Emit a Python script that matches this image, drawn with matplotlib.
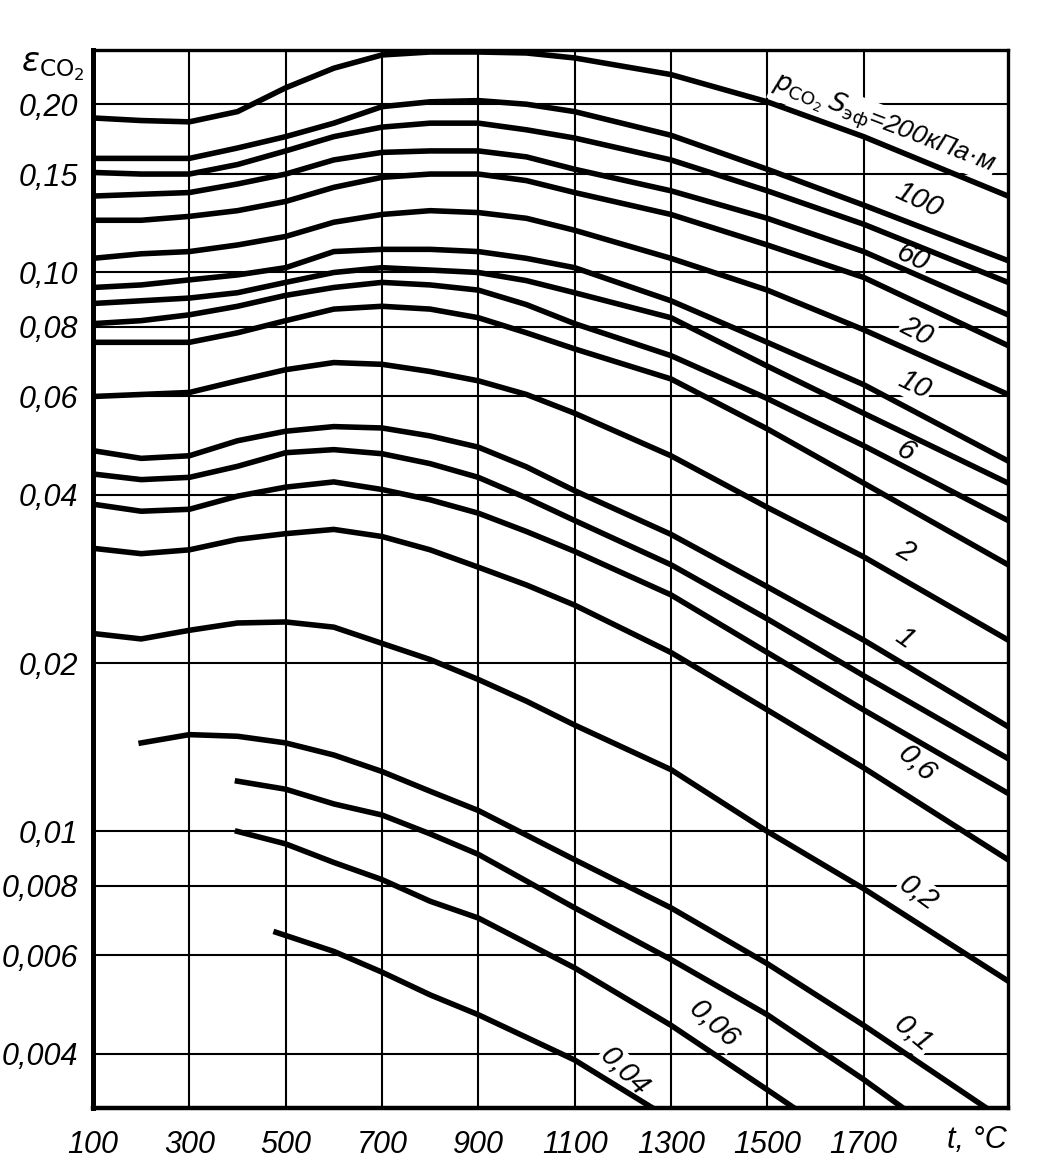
import matplotlib
matplotlib.use("Agg")
import matplotlib.pyplot as plt
from matplotlib.ticker import NullLocator
from matplotlib.transforms import blended_transform_factory

plt.rcParams['font.family'] = ['Liberation Sans Narrow', 'Liberation Sans', 'DejaVu Sans']
plt.rcParams['mathtext.fontset'] = 'dejavusans'

# температура, °C (общая сетка для кривых, начинающихся от 100 °C)
t_main = [100, 200, 300, 400, 500, 600, 700, 800, 900, 1000, 1100, 1300, 1500, 1700, 2000]

# степень черноты CO2, кривые сверху вниз
curve_01 = [0.189, 0.187, 0.186, 0.194, 0.214, 0.232, 0.245, 0.248, 0.248, 0.247, 0.242, 0.226, 0.202, 0.175, 0.137]
curve_02 = [0.160, 0.160, 0.160, 0.167, 0.175, 0.185, 0.198, 0.202, 0.203, 0.200, 0.194, 0.176, 0.153, 0.132, 0.105]
curve_03 = [0.151, 0.150, 0.150, 0.156, 0.165, 0.175, 0.182, 0.185, 0.185, 0.180, 0.174, 0.159, 0.140, 0.122, 0.096]
curve_04 = [0.137, 0.138, 0.139, 0.144, 0.150, 0.159, 0.164, 0.165, 0.165, 0.161, 0.153, 0.140, 0.125, 0.109, 0.084]
curve_05 = [0.124, 0.124, 0.126, 0.129, 0.134, 0.142, 0.148, 0.150, 0.150, 0.146, 0.139, 0.127, 0.112, 0.098, 0.074]
curve_06 = [0.106, 0.108, 0.109, 0.112, 0.116, 0.123, 0.127, 0.129, 0.128, 0.125, 0.119, 0.106, 0.093, 0.079, 0.0605]
curve_07 = [0.094, 0.095, 0.097, 0.099, 0.102, 0.109, 0.110, 0.110, 0.109, 0.106, 0.102, 0.089, 0.075, 0.063, 0.046]
curve_08 = [0.088, 0.089, 0.090, 0.092, 0.096, 0.100, 0.102, 0.101, 0.100, 0.0967, 0.092, 0.083, 0.068, 0.056, 0.042]
curve_09 = [0.081, 0.082, 0.084, 0.087, 0.091, 0.094, 0.096, 0.095, 0.093, 0.0876, 0.081, 0.071, 0.0595, 0.049, 0.036]
curve_10 = [0.075, 0.075, 0.075, 0.078, 0.082, 0.086, 0.087, 0.086, 0.083, 0.078, 0.073, 0.0645, 0.0525, 0.042, 0.030]
curve_11 = [0.060, 0.0605, 0.061, 0.064, 0.067, 0.069, 0.0685, 0.0665, 0.064, 0.0605, 0.056, 0.047, 0.038, 0.031, 0.022]
curve_12 = [0.048, 0.0465, 0.047, 0.050, 0.052, 0.053, 0.0527, 0.051, 0.0487, 0.0449, 0.0407, 0.034, 0.0274, 0.022, 0.0154]
curve_13 = [0.0436, 0.0426, 0.043, 0.045, 0.0476, 0.0482, 0.0474, 0.0455, 0.043, 0.0395, 0.036, 0.030, 0.024, 0.019, 0.0135]
curve_14 = [0.0385, 0.0374, 0.0377, 0.0398, 0.0413, 0.0422, 0.0409, 0.0392, 0.0371, 0.0344, 0.0317, 0.0265, 0.0209, 0.0165, 0.0117]
curve_15 = [0.0321, 0.0314, 0.0319, 0.0333, 0.0341, 0.0347, 0.0337, 0.0319, 0.0297, 0.0276, 0.0254, 0.0209, 0.0165, 0.0130, 0.0089]
curve_16 = [0.0226, 0.0221, 0.0229, 0.0236, 0.0237, 0.0232, 0.0217, 0.0203, 0.0187, 0.0171, 0.0155, 0.0129, 0.0100, 0.0079, 0.0054]

# нижние кривые начинаются и кончаются на своих температурах
t_17 = [200, 300, 400, 500, 600, 700, 800, 900, 1100, 1300, 1500, 1700, 1955]
curve_17 = [0.0144, 0.0149, 0.0148, 0.0144, 0.0137, 0.0128, 0.0118, 0.0109, 0.0089, 0.0073, 0.0058, 0.0045, 0.0032]
t_18 = [400, 500, 600, 700, 800, 900, 1100, 1300, 1500, 1700, 1782]
curve_18 = [0.0123, 0.0119, 0.0112, 0.0107, 0.0099, 0.0091, 0.0073, 0.0059, 0.0047, 0.0036, 0.0032]
t_19 = [400, 500, 600, 700, 800, 900, 1100, 1300, 1500, 1556]
curve_19 = [0.0100, 0.0095, 0.0088, 0.0082, 0.0075, 0.0070, 0.0057, 0.0045, 0.00345, 0.0032]
t_20 = [480, 600, 700, 800, 900, 1100, 1262]
curve_20 = [0.0066, 0.0061, 0.0056, 0.0051, 0.0047, 0.0039, 0.0032]

# подписи кривых: текст, t, eps
label_text = ['100', '60', '20', '10', '6', '2', '1', '0,6', '0,2', '0,1', '0,06', '0,04']
label_t = [1814, 1802, 1810, 1806, 1787, 1787, 1785, 1810, 1814, 1802, 1390, 1203]
label_eps = [0.1345, 0.1061, 0.0784, 0.0629, 0.0480, 0.0317, 0.0222, 0.0132, 0.00776, 0.00434, 0.00453, 0.00372]
label_rot = [-25, -25, -27, -26, -30, -30, -35, -42, -36, -40, -42, -45]

y_ticks = [0.004, 0.006, 0.008, 0.01, 0.02, 0.04, 0.06, 0.08, 0.10, 0.15, 0.20]
y_tick_labels = ['0,004', '0,006', '0,008', '0,01', '0,02', '0,04', '0,06', '0,08', '0,10', '0,15', '0,20']
x_ticks = [100, 300, 500, 700, 900, 1100, 1300, 1500, 1700]

fig = plt.figure(figsize=(10.43, 11.75), dpi=100)
ax = fig.add_axes([0.0892, 0.0570, 0.8773, 0.9004])

# сетка
for v in x_ticks[1:]:
    ax.axvline(v, color='black', lw=1.5, zorder=1)
for v in y_ticks:
    ax.axhline(v, color='black', lw=1.5, zorder=1)

upper = [curve_01, curve_02, curve_03, curve_04, curve_05, curve_06, curve_07, curve_08,
         curve_09, curve_10, curve_11, curve_12, curve_13, curve_14, curve_15, curve_16]
for c in upper:
    ax.plot(t_main, c, color='black', lw=4.0, solid_joinstyle='round', zorder=3)
for tt, c in [(t_17, curve_17), (t_18, curve_18), (t_19, curve_19), (t_20, curve_20)]:
    ax.plot(tt, c, color='black', lw=4.0, solid_joinstyle='round', zorder=3)

ax.set_yscale('log')
ax.set_xlim(100, 2000)
ax.set_ylim(0.0032, 0.25)
ax.yaxis.set_minor_locator(NullLocator())
ax.set_yticks(y_ticks)
ax.set_yticklabels(y_tick_labels)
ax.set_xticks(x_ticks)
ax.set_xticklabels([str(v) for v in x_ticks])
ax.tick_params(axis='both', length=0, labelsize=22)
ax.tick_params(axis='y', pad=11)
ax.tick_params(axis='x', pad=16)
for lab in ax.get_xticklabels() + ax.get_yticklabels():
    lab.set_fontstyle('italic')

ax.spines['left'].set_linewidth(3.6)
ax.spines['bottom'].set_linewidth(3.2)
ax.spines['top'].set_linewidth(2.4)
ax.spines['right'].set_linewidth(2.4)

trans = blended_transform_factory(ax.transData, ax.transAxes)
ax.text(1935, -0.0305, 't, °C', transform=trans, ha='center', va='center',
        fontsize=22, fontstyle='italic')

fig.text(0.051, 0.943, r'$\varepsilon_{\mathrm{CO_2}}$', fontsize=24, ha='center', va='center')

for s, tx, ey, r in zip(label_text, label_t, label_eps, label_rot):
    ax.text(tx, ey, s, fontsize=21, fontstyle='italic', rotation=r,
            ha='center', va='center', rotation_mode='anchor', zorder=2,
            bbox=dict(facecolor='white', edgecolor='none', pad=1))

ax.text(1742, 0.1845, r'$p_{\mathrm{CO_2}}\,S_{\mathrm{эф}}$=200кПа·м', fontsize=19,
        fontstyle='italic', rotation=-21, ha='center', va='center',
        rotation_mode='anchor', zorder=2,
        bbox=dict(facecolor='white', edgecolor='none', pad=1))

fig.savefig('out.png', dpi=100)
